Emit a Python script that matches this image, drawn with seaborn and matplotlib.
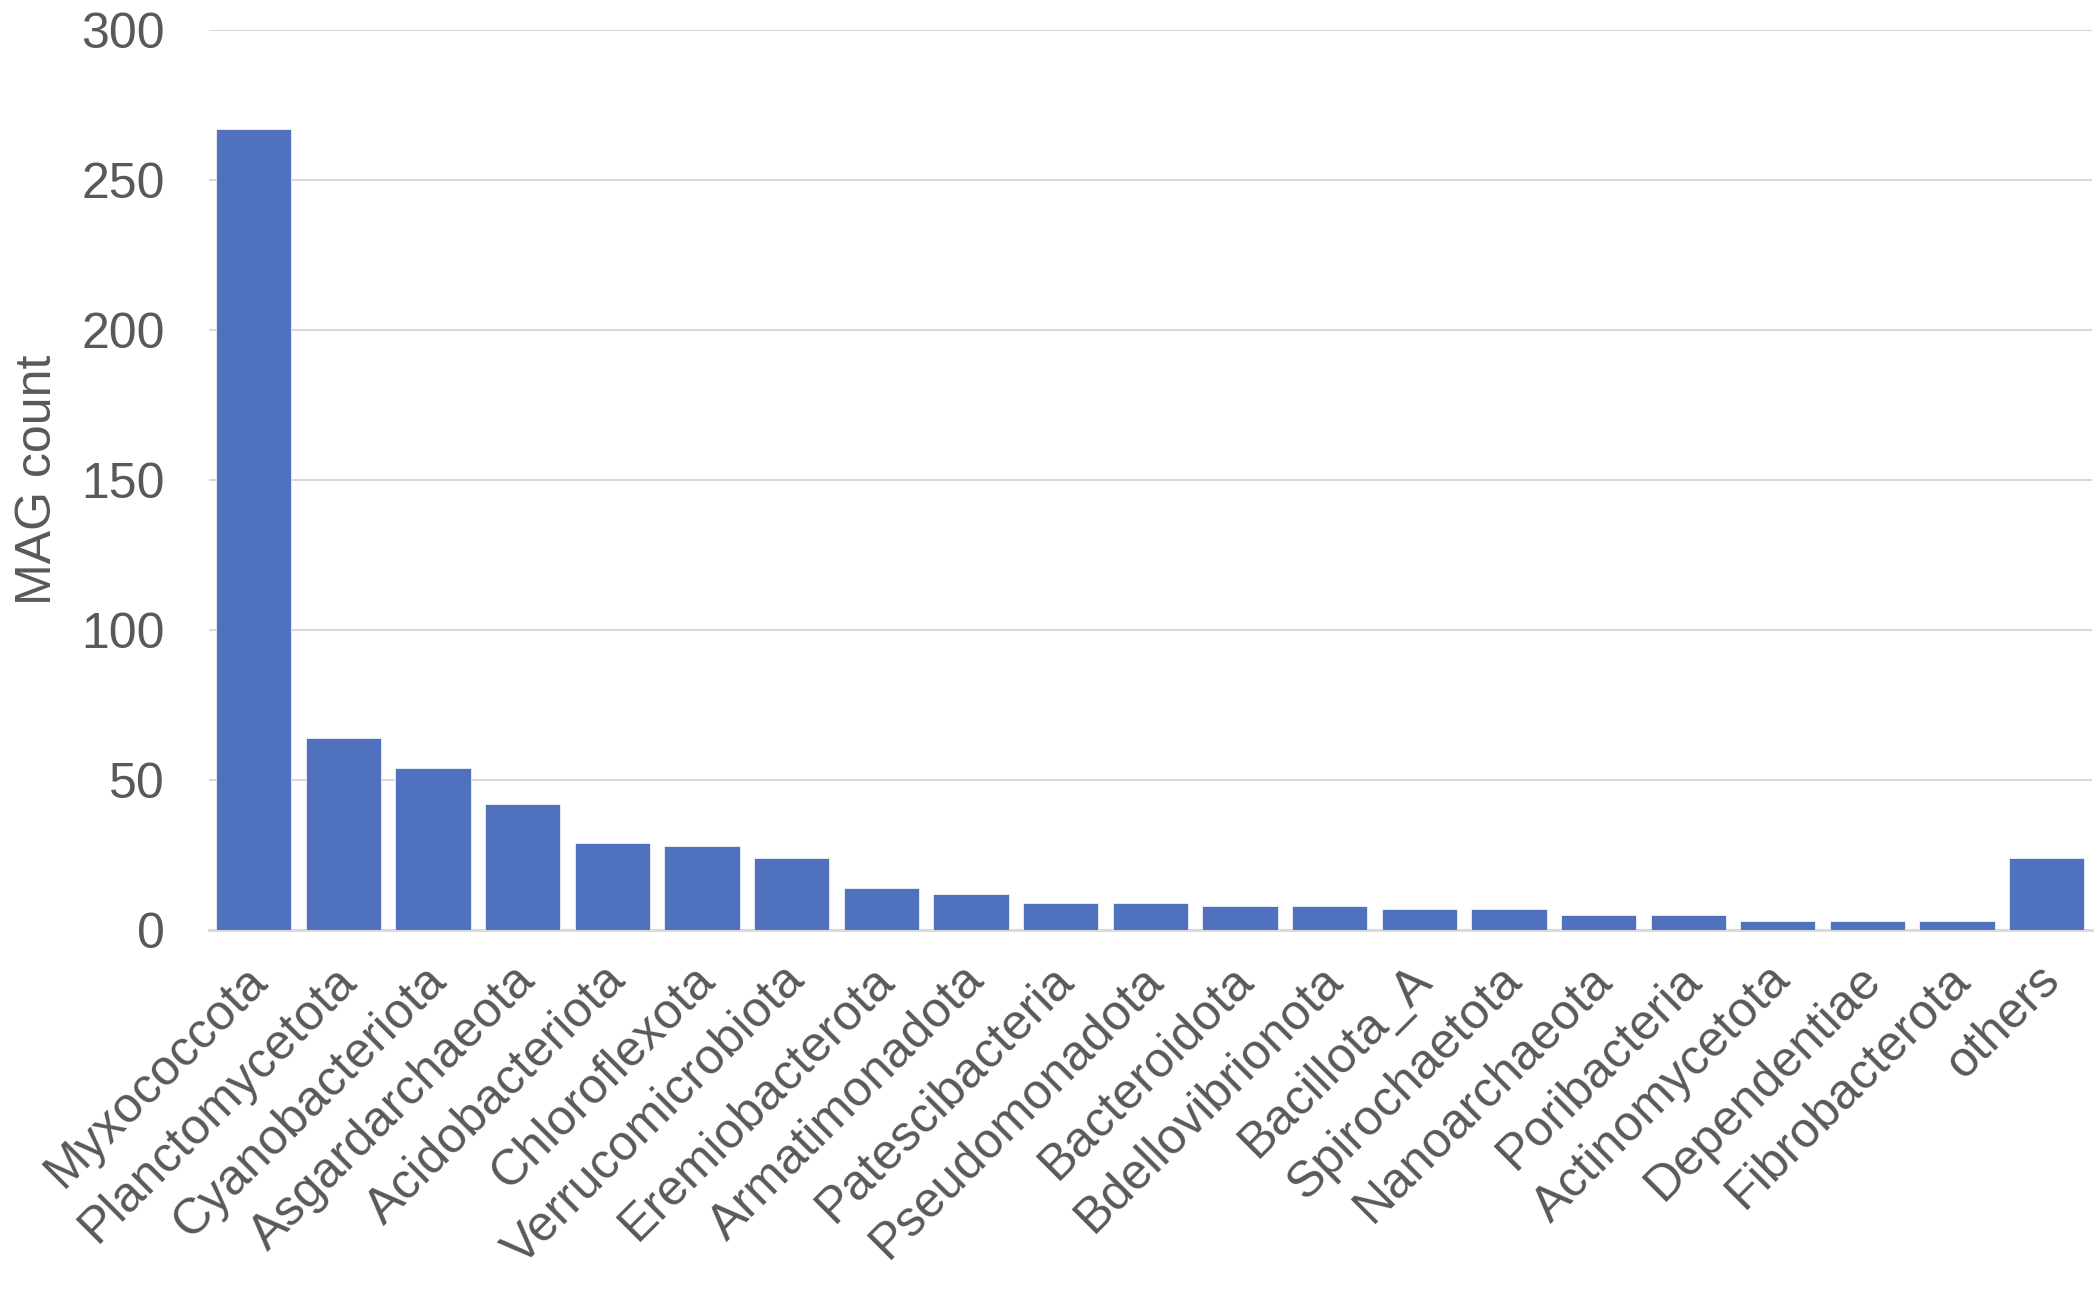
import matplotlib
matplotlib.use("Agg")
import matplotlib.pyplot as plt
import matplotlib.transforms as mtransforms
import seaborn as sns
import pandas as pd

phyla = ["Myxococcota", "Planctomycetota", "Cyanobacteriota", "Asgardarchaeota",
         "Acidobacteriota", "Chloroflexota", "Verrucomicrobiota", "Eremiobacterota",
         "Armatimonadota", "Patescibacteria", "Pseudomonadota", "Bacteroidota",
         "Bdellovibrionota", "Bacillota_A", "Spirochaetota", "Nanoarchaeota",
         "Poribacteria", "Actinomycetota", "Dependentiae", "Fibrobacterota", "others"]
mag_counts = [267, 64, 54, 42, 29, 28, 24, 14, 12, 9, 9, 8, 8, 7, 7, 5, 5, 3, 3, 3, 24]
y_ticks = [0, 50, 100, 150, 200, 250, 300]

df = pd.DataFrame({"phylum": phyla, "count": mag_counts})

sns.set_theme(style="white")
plt.rcParams["font.family"] = ["Liberation Sans", "DejaVu Sans"]

text_color = "#595959"
grid_color = "#d9d9d9"

fig = plt.figure(figsize=(21, 12.9), dpi=100)
ax = fig.add_axes([0.0995, 0.279, 0.8965, 0.6977])

sns.barplot(data=df, x="phylum", y="count", color="#4F71BE", saturation=1,
            width=0.84, edgecolor="white", linewidth=0.5, ax=ax, zorder=3)

ax.set_ylim(0, 300)
ax.set_yticks(y_ticks)
ax.yaxis.grid(True, color=grid_color, linewidth=1.5, zorder=0)
ax.set_axisbelow(True)
for side in ["left", "right", "top"]:
    ax.spines[side].set_visible(False)
ax.spines["bottom"].set_color(grid_color)
ax.spines["bottom"].set_linewidth(2)
ax.tick_params(axis="both", length=0, labelsize=36, colors=text_color)
ax.tick_params(axis="y", pad=32)

ax.set_xlabel("")
ax.set_ylabel("MAG count", fontsize=36, color=text_color, labelpad=14)

# excel-style rotated labels: end of text sits just below-left of the bar
offset = mtransforms.ScaledTranslation(0.06, -0.38, fig.dpi_scale_trans)
for lbl in ax.get_xticklabels():
    lbl.set_rotation(45)
    lbl.set_ha("right")
    lbl.set_va("center")
    lbl.set_rotation_mode("anchor")
    lbl.set_transform(lbl.get_transform() + offset)

fig.savefig("out.png", dpi=100)
